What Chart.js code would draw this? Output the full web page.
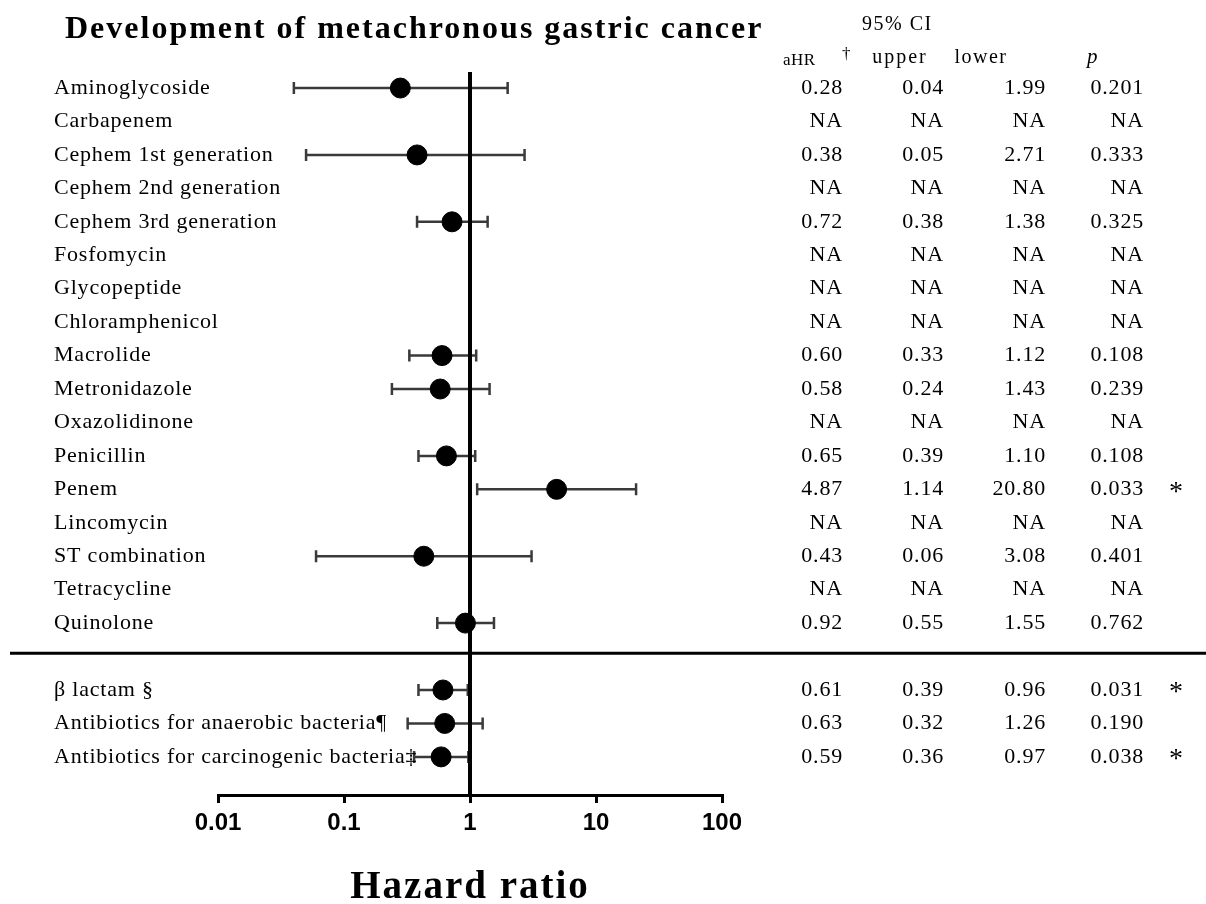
<!DOCTYPE html>
<html lang="en">
<head>
    <meta charset="UTF-8">
    <title>Development of metachronous gastric cancer</title>
    <style>
        body {
            margin: 0;
            background-color: #fff;
        }
        #chartContainer {
            width: 1206px;
            height: 904px;
        }
    </style>
    <script src="https://cdn.jsdelivr.net/npm/chart.js"></script>
</head>
<body>
    <div id="chartContainer">
        <canvas id="forestChart"></canvas>
    </div>

    <script>
        // individual antibiotic classes
        const drugs = [
            'Aminoglycoside', 'Carbapenem', 'Cephem 1st generation', 'Cephem 2nd generation',
            'Cephem 3rd generation', 'Fosfomycin', 'Glycopeptide', 'Chloramphenicol',
            'Macrolide', 'Metronidazole', 'Oxazolidinone', 'Penicillin', 'Penem',
            'Lincomycin', 'ST combination', 'Tetracycline', 'Quinolone'
        ];
        // grouped classes, shown below the separator
        const groups = [
            'β lactam §', 'Antibiotics for anaerobic bacteria¶', 'Antibiotics for carcinogenic bacteria‡'
        ];

        // values in the order drugs + groups (null = NA)
        const aHR    = [0.28, null, 0.38, null, 0.72, null, null, null, 0.60, 0.58, null, 0.65, 4.87, null, 0.43, null, 0.92, 0.61, 0.63, 0.59];
        const ciLow  = [0.04, null, 0.05, null, 0.38, null, null, null, 0.33, 0.24, null, 0.39, 1.14, null, 0.06, null, 0.55, 0.39, 0.32, 0.36];
        const ciHigh = [1.99, null, 2.71, null, 1.38, null, null, null, 1.12, 1.43, null, 1.10, 20.80, null, 3.08, null, 1.55, 0.96, 1.26, 0.97];
        const pValues = ['0.201', 'NA', '0.333', 'NA', '0.325', 'NA', 'NA', 'NA', '0.108', '0.239', 'NA', '0.108', '0.033', 'NA', '0.401', 'NA', '0.762', '0.031', '0.190', '0.038'];
        const significant = [false, false, false, false, false, false, false, false, false, false, false, false, true, false, false, false, false, true, false, true];

        const tickValues = [0.01, 0.1, 1, 10, 100];
        const tickLabels = ['0.01', '0.1', '1', '10', '100'];

        const labels = drugs.concat(groups);
        // row index: one empty row between the two blocks
        const rowIndex = labels.map((_, i) => i < drugs.length ? i : i + 1);

        const fmt = v => v === null ? 'NA' : v.toFixed(2);

        const serif = '"Liberation Serif", "Times New Roman", serif';

        const points = [];
        aHR.forEach((v, i) => {
            if (v !== null) points.push({ x: v, y: rowIndex[i] });
        });

        function text(ctx, str, x, y, font, align, spacing, baseline) {
            ctx.save();
            ctx.font = font;
            ctx.fillStyle = '#000';
            ctx.textAlign = align || 'left';
            ctx.textBaseline = baseline || 'middle';
            ctx.letterSpacing = (spacing || 0) + 'px';
            ctx.fillText(str, x, y);
            ctx.restore();
        }

        const forestPlugin = {
            id: 'forest',
            beforeDatasetsDraw(chart) {
                const ctx = chart.ctx;
                const xs = chart.scales.x;
                const ys = chart.scales.y;
                ctx.save();
                // confidence intervals
                ctx.strokeStyle = '#3a3a3a';
                ctx.lineWidth = 2.5;
                labels.forEach((_, i) => {
                    if (aHR[i] === null) return;
                    const y = ys.getPixelForValue(rowIndex[i]);
                    const x1 = xs.getPixelForValue(ciLow[i]);
                    const x2 = xs.getPixelForValue(ciHigh[i]);
                    ctx.beginPath();
                    ctx.moveTo(x1, y);
                    ctx.lineTo(x2, y);
                    ctx.moveTo(x1, y - 6);
                    ctx.lineTo(x1, y + 6);
                    ctx.moveTo(x2, y - 6);
                    ctx.lineTo(x2, y + 6);
                    ctx.stroke();
                });
                // line of no effect
                const x0 = xs.getPixelForValue(1);
                ctx.strokeStyle = '#000';
                ctx.lineWidth = 4;
                ctx.beginPath();
                ctx.moveTo(x0, chart.chartArea.top);
                ctx.lineTo(x0, chart.chartArea.bottom);
                ctx.stroke();
                ctx.restore();
            },
            afterDraw(chart) {
                const ctx = chart.ctx;
                const ys = chart.scales.y;

                // separator between single classes and groups
                const sepY = ys.getPixelForValue(drugs.length - 0.1);
                ctx.save();
                ctx.strokeStyle = '#000';
                ctx.lineWidth = 3;
                ctx.beginPath();
                ctx.moveTo(10, sepY);
                ctx.lineTo(chart.width, sepY);
                ctx.stroke();
                ctx.restore();

                // title and headers
                text(ctx, 'Development of metachronous gastric cancer', 65, 38, 'bold 32px ' + serif, 'left', 2, 'alphabetic');
                text(ctx, '95% CI', 862, 30, '20px ' + serif, 'left', 1.5, 'alphabetic');
                text(ctx, 'aHR', 783, 65, '17px ' + serif, 'left', 0.5, 'alphabetic');
                text(ctx, '†', 842, 59, '17px ' + serif, 'left', 0, 'alphabetic');
                text(ctx, 'upper', 900, 63, '20px ' + serif, 'center', 2, 'alphabetic');
                text(ctx, 'lower', 981, 63, '20px ' + serif, 'center', 1.5, 'alphabetic');
                text(ctx, 'p', 1087, 63, 'italic 21px ' + serif, 'left', 0, 'alphabetic');

                // rows
                labels.forEach((name, i) => {
                    const y = ys.getPixelForValue(rowIndex[i]);
                    text(ctx, name, 54, y, '22px ' + serif, 'left', 0.8);
                    const tf = '22px ' + serif;
                    text(ctx, fmt(aHR[i]), 843, y, tf, 'right', 0.8);
                    text(ctx, fmt(ciLow[i]), 944, y, tf, 'right', 0.8);
                    text(ctx, fmt(ciHigh[i]), 1046, y, tf, 'right', 0.8);
                    text(ctx, pValues[i], 1144, y, tf, 'right', 0.8);
                    if (significant[i]) {
                        text(ctx, '*', 1176, y + 3, '28px ' + serif, 'center', 0);
                    }
                });

                // axis title
                const cx = (chart.chartArea.left + chart.chartArea.right) / 2;
                text(ctx, 'Hazard ratio', cx, 898, 'bold 39px ' + serif, 'center', 2, 'alphabetic');
            }
        };

        const ctx = document.getElementById('forestChart').getContext('2d');
        new Chart(ctx, {
            type: 'scatter',
            data: {
                datasets: [{
                    label: 'aHR',
                    data: points,
                    backgroundColor: '#000',
                    borderColor: '#000',
                    pointRadius: 10,
                    pointHoverRadius: 10
                }]
            },
            options: {
                responsive: true,
                maintainAspectRatio: false,
                animation: false,
                layout: {
                    padding: { left: 218, right: 484, top: 72, bottom: 0 }
                },
                scales: {
                    x: {
                        type: 'logarithmic',
                        min: 0.01,
                        max: 100,
                        afterBuildTicks: scale => {
                            scale.ticks = tickValues.map(v => ({ value: v }));
                        },
                        afterFit: scale => {
                            scale.height = 109;
                        },
                        ticks: {
                            autoSkip: false,
                            maxRotation: 0,
                            padding: 6,
                            color: '#000',
                            font: { family: '"Liberation Sans", Arial, sans-serif', size: 24, weight: 'bold' },
                            callback: (value, index) => tickLabels[index]
                        },
                        grid: {
                            drawOnChartArea: false,
                            drawTicks: true,
                            tickLength: 8,
                            lineWidth: 3,
                            color: '#000'
                        },
                        border: { display: true, width: 3, color: '#000' }
                    },
                    y: {
                        type: 'linear',
                        reverse: true,
                        min: -0.48,
                        max: 21.14,
                        display: false
                    }
                },
                plugins: {
                    legend: { display: false },
                    tooltip: { enabled: false }
                }
            },
            plugins: [forestPlugin]
        });
    </script>
</body>
</html>
